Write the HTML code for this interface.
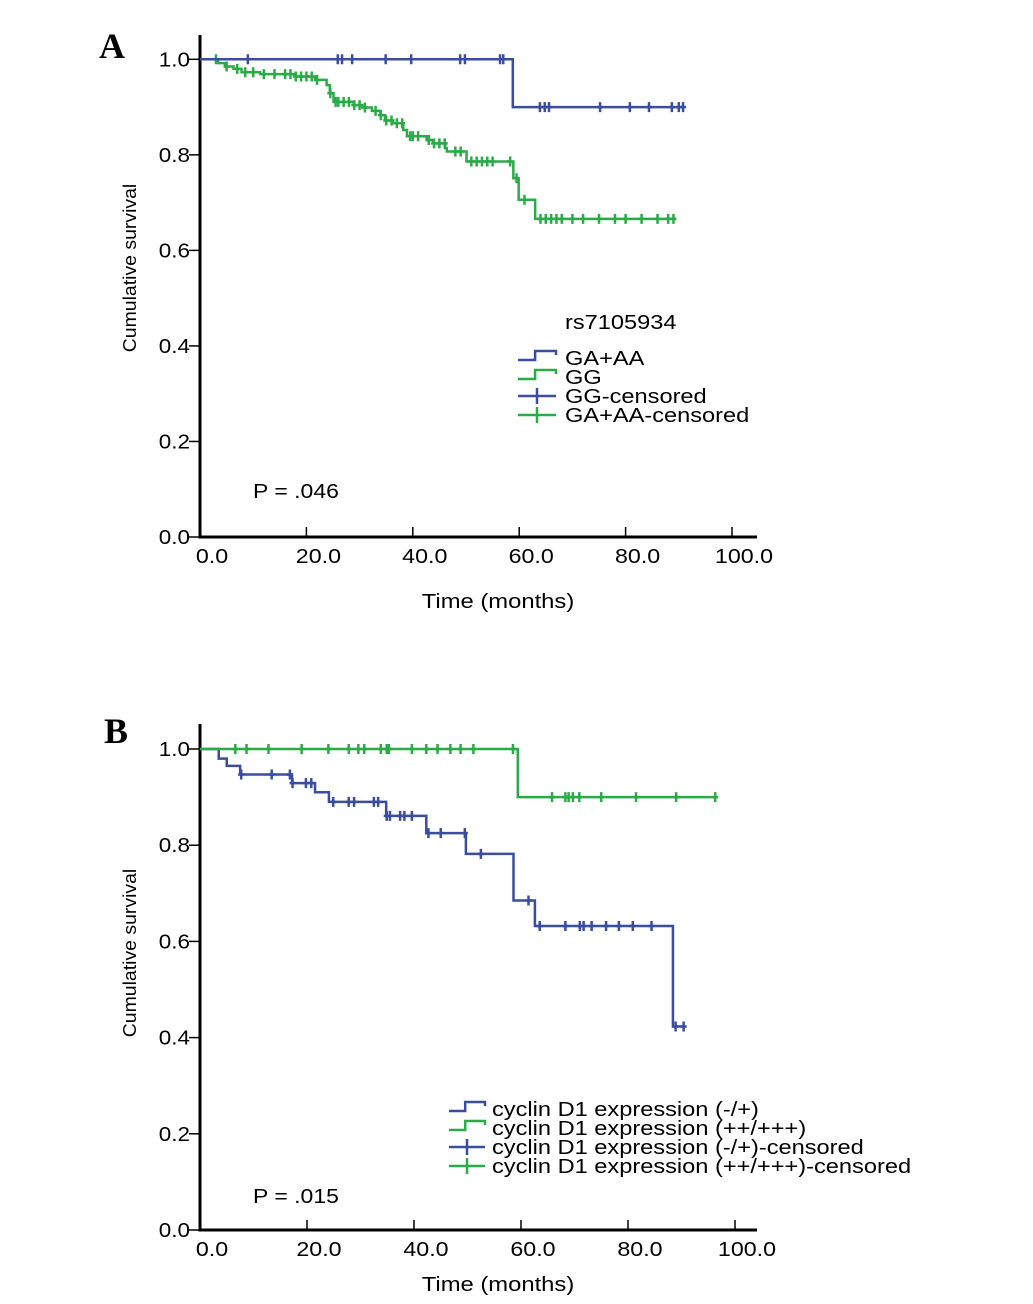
<!DOCTYPE html>
<html><head><meta charset="utf-8">
<style>
html,body{margin:0;padding:0;background:#fff;}
svg{display:block;font-family:"Liberation Sans",Arial,sans-serif;}
</style></head>
<body>
<svg id="chart" width="1033" height="1304" viewBox="0 0 1033 1304" xmlns="http://www.w3.org/2000/svg"></svg>
<script>
// ---- shared axis data ----
const xTickLabels = ["0.0","20.0","40.0","60.0","80.0","100.0"];
const xTickValues = [0,20,40,60,80,100];
const yTickLabels = ["0.0","0.2","0.4","0.6","0.8","1.0"];
const yTickValues = [0,0.2,0.4,0.6,0.8,1.0];

// ---- Panel A data ----
const aBlueTimes = [0, 58.8, 91];
const aBlueSurv  = [1.0, 0.90, 0.90];
const aBlueCens  = [9.0,25.9,26.7,28.6,34.9,39.7,48.9,49.8,56.4,57.0,63.9,64.8,65.6,75.2,80.8,84.4,88.7,90.0,90.8];

const aGreenTimes = [0,3.4,4.7,6.3,7.8,11.3,17.9,21.6,23.8,24.4,25.1,28.9,30.5,32.3,33.9,34.8,36.3,38.2,38.9,42.6,43.8,46.1,46.4,50.1,58.9,59.9,63.0,89.5];
const aGreenSurv  = [1.0,0.992,0.985,0.980,0.973,0.969,0.964,0.957,0.946,0.929,0.911,0.904,0.899,0.892,0.883,0.872,0.866,0.852,0.839,0.831,0.824,0.814,0.807,0.786,0.751,0.706,0.666,0.666];
const aGreenCens  = [3,5,7,8.5,10,12,14,16,17,18,19,20,21,22,24.5,25.5,26,27,28,29,30,31,33,34,35,36,37,38,39.5,40,41,43,44,45,46,48,49,51,52,53,54,55,58.3,59.5,61,64,65,66,67,68,70,72,75,78,80,83,86,88,89];

// ---- Panel B data ----
const bGreenTimes = [0,59.4,96.3];
const bGreenSurv  = [1.0,0.90,0.90];
const bGreenCens  = [6.6,8.7,12.8,19.0,24.0,27.8,29.6,30.7,33.8,34.9,35.3,39.6,42.3,44.4,46.8,48.7,51.1,58.5,65.8,68.3,68.9,69.7,70.9,75.0,81.5,89.0,96.3];

const bBlueTimes = [0,3.5,5.0,7.5,17.2,21.5,24.1,34.8,42.3,49.7,58.6,62.6,88.4,90.7];
const bBlueSurv  = [1.0,0.98,0.965,0.947,0.929,0.910,0.890,0.861,0.825,0.782,0.685,0.632,0.423,0.423];
const bBlueCens  = [7.7,13.4,16.8,17.3,19.8,20.8,24.9,27.8,28.8,32.5,33.3,34.9,35.5,37.4,38.2,39.6,42.7,45.0,49.5,52.5,61.4,63.5,68.3,71.0,71.7,73.2,75.9,78.3,80.9,84.4,88.9,90.4];

const BLUE="#3a4d9f", GREEN="#2bab48";
const NS="http://www.w3.org/2000/svg";
const svg=document.getElementById('chart');
function mk(tag,attrs,parent){const e=document.createElementNS(NS,tag);for(const k in attrs)e.setAttribute(k,attrs[k]);(parent||svg).appendChild(e);return e;}
function stretch(t,k){const w=t.getComputedTextLength();if(w>0){t.setAttribute('textLength',(w*k).toFixed(1));t.setAttribute('lengthAdjust','spacingAndGlyphs');}}

function stepAt(times,surv,t){let s=surv[0];for(let i=0;i<times.length;i++){if(times[i]<=t)s=surv[i];}return s;}

function panel(cfg){
  const g=mk('g',{});
  
  
  const X=v=>cfg.x0+v*cfg.pxPerMonth;
  const Y=v=>cfg.yBottom-(cfg.yBottom-cfg.yTop)*v;
  const L=mk('text',{x:cfg.letterX,y:cfg.letterY,'font-family':'"Liberation Serif",serif','font-weight':'bold','font-size':36,fill:'#000'},g);
  L.textContent=cfg.letter;
  
  
  const ya=mk('line',{x1:cfg.x0,y1:cfg.axisTop,x2:cfg.x0,y2:cfg.yBottom+1.5,stroke:'#000','stroke-width':3},g);
  
  
  const xa=mk('line',{x1:cfg.x0-1.5,y1:cfg.yBottom,x2:cfg.axisRight,y2:cfg.yBottom,stroke:'#000','stroke-width':3},g);
  
  
  yTickValues.forEach((v,i)=>{
    mk('line',{x1:cfg.x0-11,y1:Y(v),x2:cfg.x0,y2:Y(v),stroke:'#000','stroke-width':1.5},g);
    const t=mk('text',{x:cfg.x0-10,y:Y(v)+7,'text-anchor':'end','font-size':20,fill:'#000'},g);
    t.textContent=yTickLabels[i];
    
    
    stretch(t,1.12);
  });
  xTickValues.forEach((v,i)=>{
    mk('line',{x1:X(v),y1:cfg.yBottom-10,x2:X(v),y2:cfg.yBottom,stroke:'#000','stroke-width':1.5},g);
    const t=mk('text',{x:X(v)+12,y:cfg.yBottom+26,'text-anchor':'middle','font-size':20,fill:'#000'},g);
    t.textContent=xTickLabels[i];
    
    
    stretch(t,1.16);
  });
  const xt=mk('text',{x:cfg.xTitleX,y:cfg.yBottom+cfg.xTitleOff,'text-anchor':'middle','font-size':20,fill:'#000'},g);
  xt.textContent='Time (months)';
  
  
  stretch(xt,1.19);
  const yt=mk('text',{x:0,y:0,'text-anchor':'middle','font-size':18,fill:'#000',transform:`translate(${cfg.yTitleX},${cfg.yTitleY}) rotate(-90)`},g);
  yt.textContent='Cumulative survival';
  
  
  stretch(yt,1.08);
  cfg.series.forEach(s=>{
    let d=`M${X(s.times[0])},${Y(s.surv[0])}`;
    for(let i=1;i<s.times.length;i++){d+=` H${X(s.times[i])} V${Y(s.surv[i])}`;}
    const p=mk('path',{d:d,fill:'none',stroke:s.color,'stroke-width':2.5},g);
    
    
    s.cens.forEach(c=>{
      const cx=X(c),cy=Y(stepAt(s.times,s.surv,c));
      const m=mk('path',{d:`M${cx},${cy-5} V${cy+5} M${cx-3},${cy} H${cx+3}`,stroke:s.color,'stroke-width':2.5,fill:'none'},g);
      
      
    });
  });
  const pv=mk('text',{x:253,y:cfg.pY,'font-size':20,fill:'#000'},g);
  pv.textContent=cfg.pText;
  
  
  stretch(pv,1.15);
  if(cfg.legendTitle){
    const lt=mk('text',{x:cfg.legendTitleX,y:cfg.legendTitleY,'font-size':20,fill:'#000'},g);
    lt.textContent=cfg.legendTitle;
    
    
    stretch(lt,1.18);
  }
  cfg.legend.forEach((e,i)=>{
    const y=cfg.legendY+i*cfg.legendStep;
    const ix=cfg.iconX, w=cfg.iconW;
    let d;
    if(e.kind==='step') d=`M${ix},${y+2} H${ix+w*0.45} V${y-7} H${ix+w} V${y-3}`;
    else d=`M${ix},${y} H${ix+w} M${ix+w/2},${y-8} V${y+8}`;
    const ic=mk('path',{d:d,fill:'none',stroke:e.color,'stroke-width':2.5},g);
    
    
    const t=mk('text',{x:cfg.textX,y:y+7,'font-size':20,fill:'#000'},g);
    t.textContent=e.label;
    
    
    stretch(t,1.18);
  });
}

panel({name:'panel-a',letter:'A',letterX:99,letterY:58,x0:200,pxPerMonth:5.32,yTop:59.3,yBottom:537,axisTop:35,axisRight:757,
  xTitleX:498,xTitleOff:71,yTitleX:136,yTitleY:268,pY:498,pText:'P = .046',
  legendTitle:'rs7105934',legendTitleX:565,legendTitleY:329,
  legendY:358,legendStep:19,iconX:518,iconW:38,textX:565,
  legend:[{kind:'step',color:BLUE,label:'GA+AA'},{kind:'step',color:GREEN,label:'GG'},{kind:'cens',color:BLUE,label:'GG-censored'},{kind:'cens',color:GREEN,label:'GA+AA-censored'}],
  series:[{name:'gg',color:GREEN,times:aGreenTimes,surv:aGreenSurv,cens:aGreenCens},{name:'ga-aa',color:BLUE,times:aBlueTimes,surv:aBlueSurv,cens:aBlueCens}]});

panel({name:'panel-b',letter:'B',letterX:104,letterY:743,x0:200,pxPerMonth:5.35,yTop:749,yBottom:1230,axisTop:724,axisRight:757,
  xTitleX:498,xTitleOff:61,yTitleX:136,yTitleY:953,pY:1203,pText:'P = .015',
  legendY:1109,legendStep:19,iconX:449,iconW:36,textX:492,
  legend:[{kind:'step',color:BLUE,label:'cyclin D1 expression (-/+)'},{kind:'step',color:GREEN,label:'cyclin D1 expression (++/+++)'},{kind:'cens',color:BLUE,label:'cyclin D1 expression (-/+)-censored'},{kind:'cens',color:GREEN,label:'cyclin D1 expression (++/+++)-censored'}],
  series:[{name:'low-expression',color:BLUE,times:bBlueTimes,surv:bBlueSurv,cens:bBlueCens},{name:'high-expression',color:GREEN,times:bGreenTimes,surv:bGreenSurv,cens:bGreenCens}]});
</script>
</body></html>
